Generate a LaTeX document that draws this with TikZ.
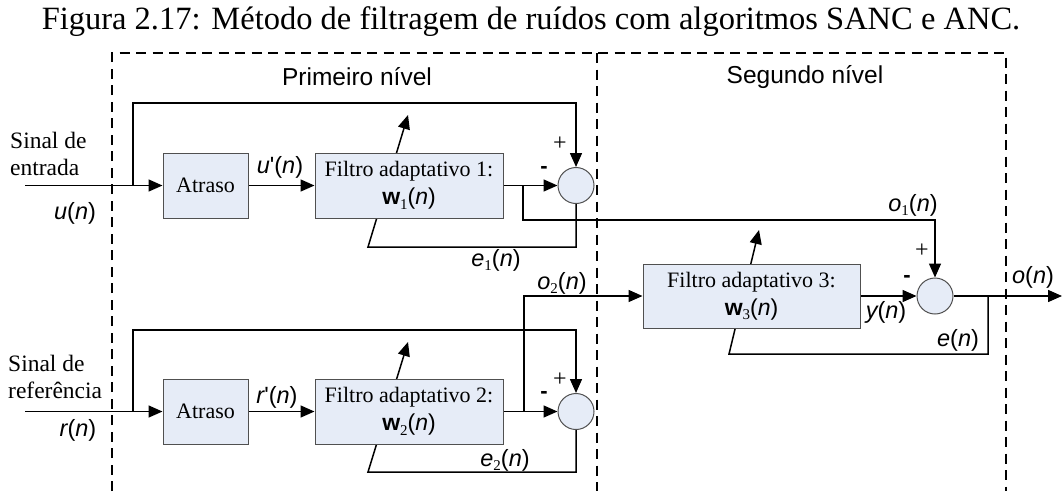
\documentclass[tikz,border=0pt]{standalone}
\usepackage{fontspec}
\setmainfont{Liberation Serif}
\newfontfamily\sflab{Liberation Sans}
\usetikzlibrary{arrows.meta,calc}
\pgfdeclarelayer{bg}
\pgfsetlayers{bg,main}
\definecolor{boxfill}{HTML}{E6ECF7}
\definecolor{boxline}{HTML}{505050}
% signal names: italic sans letters, serif subscripts, sans brackets
\newcommand\varn[1]{{\sflab\itshape #1}}
\newcommand\subs[1]{\raisebox{-0.45ex}{\fontsize{15}{15}\selectfont #1}}
\newcommand\ofn{{\sflab(}\varn{n}{\sflab)}}
\newcommand\sigl[2]{\varn{#1}\subs{#2}\ofn}
\newcommand\wvec[1]{{\sflab\bfseries w}\subs{#1}\ofn}
\tikzset{
  sigline/.style={line width=1.5pt, draw=black},
  arr/.style={sigline, -{Triangle[length=14pt,width=12pt]}},
  block/.style={draw=boxline, line width=1pt, fill=boxfill, inner sep=0pt,
    align=center, font=\fontsize{22}{28}\selectfont},
  sumnode/.style={circle, draw=boxline, line width=1pt, fill=boxfill,
    minimum size=36pt, inner sep=0pt},
  region/.style={line width=1.4pt, dash pattern=on 10pt off 6.5pt},
  lab/.style={font=\fontsize{23.5}{26}\selectfont, inner sep=0pt},
  serlab/.style={font=\fontsize{23.5}{27}\selectfont, inner sep=0pt, align=left},
  minus/.style={font=\sflab\bfseries\fontsize{22}{22}\selectfont, inner sep=0pt},
  plus/.style={font=\fontsize{24}{24}\selectfont, inner sep=0pt},
  level/.style={font=\sflab\fontsize{24.5}{26}\selectfont, inner sep=0pt},
}
\begin{document}
\begin{tikzpicture}[x=1pt, y=-1pt]
\useasboundingbox (0,0) rectangle (1062,491);

% caption
\node[font=\fontsize{32.5}{36}\selectfont, inner sep=0pt] (title) at (531,22)
  {Figura 2.17: Método de filtragem de ruídos com algoritmos SANC e ANC.};

% dashed frame of the two levels
\draw[region] (112,491) -- (112,53) -- (1006,53) -- (1006,491);
\draw[region] (597,53) -- (597,491);
\node[level] (lv1) at (357,77) {Primeiro nível};
\node[level] (lv2) at (805,77) {Segundo nível};

% blocks
\node[block, minimum width=85pt, minimum height=65pt] (at1) at (205.5,185.5) {Atraso};
\node[block, minimum width=188pt, minimum height=65pt] (f1) at (409,185.5)
  {Filtro adaptativo 1:\\{\fontsize{23}{28}\selectfont\wvec{1}}};
\node[sumnode] (sum1) at (576,185.5) {};

\node[block, minimum width=85pt, minimum height=65pt] (at2) at (205.5,411.5) {Atraso};
\node[block, minimum width=188pt, minimum height=65pt] (f2) at (409,411.5)
  {Filtro adaptativo 2:\\{\fontsize{23}{28}\selectfont\wvec{2}}};
\node[sumnode] (sum2) at (576,411.5) {};

\node[block, minimum width=217pt, minimum height=64pt] (f3) at (751.5,296)
  {Filtro adaptativo 3:\\{\fontsize{23}{28}\selectfont\wvec{3}}};
\node[sumnode] (sum3) at (935,296) {};

% junctions and bends
\coordinate (in1) at (25,185.5);
\coordinate (br1) at (133,185.5);
\coordinate (top1) at (133,103);
\coordinate (tap1) at (523,185.5);
\coordinate (o1bend) at (523,220);
\coordinate (fb1a) at (368,247);
\coordinate (fb1b) at (408,115);

\coordinate (in2) at (25,411.5);
\coordinate (br2) at (133,411.5);
\coordinate (top2) at (133,330);
\coordinate (tap2) at (524,411.5);
\coordinate (fb2a) at (368,472);
\coordinate (fb2b) at (408,342);

\coordinate (tap3) at (988,296);
\coordinate (out) at (1062,296);
\coordinate (fb3a) at (729,354);
\coordinate (fb3b) at (759,230);

\begin{pgfonlayer}{bg}
  % first level, upper branch
  \draw[arr] (in1) -- (at1);
  \draw[arr] (br1) -- (top1) -| (sum1.north);
  \draw[arr] (at1) -- (f1);
  \draw[arr] (f1) -- (sum1);
  \draw[arr] (tap1) -- (o1bend) -| (sum3.north);
  \draw[arr] (sum1.south) |- (fb1a) -- (fb1b);
  % first level, lower branch
  \draw[arr] (in2) -- (at2);
  \draw[arr] (br2) -- (top2) -| (sum2.north);
  \draw[arr] (at2) -- (f2);
  \draw[arr] (f2) -- (sum2);
  \draw[arr] (tap2) |- (f3.west);
  \draw[arr] (sum2.south) |- (fb2a) -- (fb2b);
  % second level
  \draw[arr] (f3) -- (sum3);
  \draw[arr] (sum3) -- (out);
  \draw[arr] (tap3) |- (fb3a) -- (fb3b);
\end{pgfonlayer}

% signal labels
\node[serlab, anchor=west] (s1) at (10,153.5) {Sinal de\\entrada};
\node[serlab, anchor=west] (s2) at (8,376.5) {Sinal de\\referência};
\node[lab] (lu) at (75,213) {\varn{u}\ofn};
\node[lab] (lup) at (280,167) {\varn{u}{\sflab'}\ofn};
\node[lab] (lr) at (78,430) {\varn{r}\ofn};
\node[lab] (lrp) at (277,397) {\varn{r}{\sflab'}\ofn};
\node[lab] (le1) at (496,260) {\sigl{e}{1}};
\node[lab] (le2) at (505,460) {\sigl{e}{2}};
\node[lab] (lo1) at (913,205) {\sigl{o}{1}};
\node[lab] (lo2) at (562,283) {\sigl{o}{2}};
\node[lab] (ly) at (886,312) {\varn{y}\ofn};
\node[lab] (le) at (958,340) {\varn{e}\ofn};
\node[lab] (lo) at (1033,277) {\varn{o}\ofn};

% signs at the summing points
\node[plus] (p1) at (560,144) {+};
\node[minus] (m1) at (544,170) {-};
\node[plus] (p2) at (560,380) {+};
\node[minus] (m2) at (544,395) {-};
\node[plus] (p3) at (922,251) {+};
\node[minus] (m3) at (907,279) {-};
\end{tikzpicture}
\end{document}
